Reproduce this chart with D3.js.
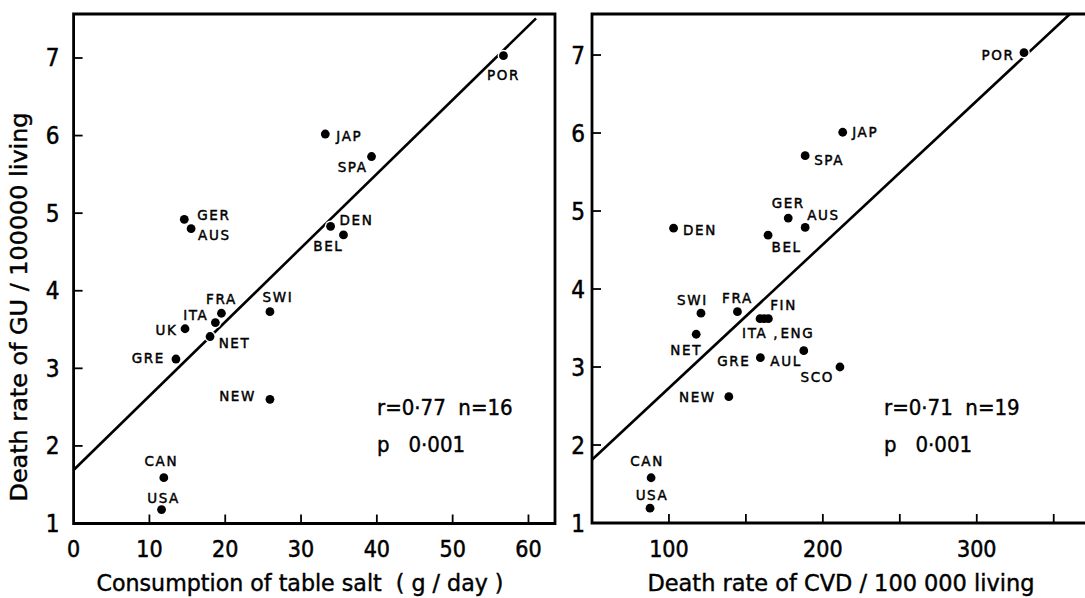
<!DOCTYPE html>
<html>
<head>
<meta charset="utf-8">
<script src="https://cdn.jsdelivr.net/npm/d3@7"></script>
<style>
  body { margin: 0; background: #fff; }
  svg text { fill: #000; white-space: pre; }
</style>
</head>
<body>
<div id="chart"></div>
<script>
//Data, left panel: salt consumption vs GU death rate
var saltCountries = ["POR", "JAP", "SPA", "GER", "AUS", "DEN", "BEL", "FRA", "ITA", "UK", "NET", "SWI", "GRE", "NEW", "CAN", "USA"];
var saltIntake = [56.7, 33.2, 39.3, 14.6, 15.5, 33.9, 35.6, 19.5, 18.7, 14.7, 18.0, 25.9, 13.5, 25.9, 11.9, 11.6];
var saltGU = [7.03, 6.02, 5.73, 4.92, 4.80, 4.83, 4.72, 3.71, 3.59, 3.51, 3.41, 3.73, 3.12, 2.60, 1.59, 1.18];
var saltFit = [[0, 1.69], [61.0, 7.51]];
var saltXTicks = [0, 10, 20, 30, 40, 50, 60];

//Data, right panel: CVD death rate vs GU death rate
var cvdCountries = ["POR", "JAP", "SPA", "GER", "AUS", "DEN", "BEL", "SWI", "FRA", "ITA", "FIN", "ENG", "NET", "GRE", "AUL", "SCO", "NEW", "CAN", "USA"];
var cvdRate = [330.7, 212.9, 188.5, 177.5, 188.5, 103.0, 164.4, 120.8, 144.5, 159.2, 161.9, 164.6, 117.7, 159.4, 187.6, 211.1, 138.9, 88.4, 87.7];
var cvdGU = [7.03, 6.01, 5.71, 4.91, 4.79, 4.78, 4.69, 3.69, 3.71, 3.62, 3.62, 3.62, 3.42, 3.12, 3.21, 3.00, 2.62, 1.58, 1.19];
var cvdFit = [[50, 1.81], [360.7, 7.53]];
var cvdXTicks = [100, 150, 200, 250, 300, 350];
var cvdXLabels = [100, 200, 300];

var yTicks = [1, 2, 3, 4, 5, 6, 7];
var saltStats = ["r=0\u00b777  n=16", "p   0\u00b7001"];
var cvdStats = ["r=0\u00b771  n=19", "p   0\u00b7001"];

//Label placement [dx, dy, anchor]
var saltLabelPos = {
    POR: [0, 24, "middle"], JAP: [11, 7, "start"], SPA: [-4, 15, "end"], GER: [13, 1, "start"],
    AUS: [7, 11, "start"], DEN: [9, -1, "start"], BEL: [0, 16, "end"], FRA: [0, -9, "middle"],
    ITA: [-7, -3, "end"], UK: [-7.5, 6, "end"], NET: [8.6, 11, "start"], SWI: [8, -10, "middle"],
    GRE: [-11, 4, "end"], NEW: [-14, 2, "end"], CAN: [-2.5, -12, "middle"], USA: [2, -7, "middle"]
};
var cvdLabelPos = {
    POR: [-9.5, 7, "end"], JAP: [9.5, 5, "start"], SPA: [9, 9, "start"], GER: [0, -10, "middle"],
    AUS: [2, -7, "start"], DEN: [9.5, 7, "start"], BEL: [3.5, 17, "start"], SWI: [-8.5, -8, "middle"],
    FRA: [0, -9, "middle"], ITA: [-18, 19, "start"], FIN: [6, -9, "start"], ENG: [12, 19, "start"],
    NET: [-10, 21, "middle"], GRE: [-10, 8, "end"], AUL: [-2, 15, "end"], SCO: [-6, 15, "end"],
    NEW: [-13, 5, "end"], CAN: [-4, -12, "middle"], USA: [2, -8, "middle"]
};
var cvdLabelText = { ITA: "ITA ," };

//Setup
var width = 1085, height = 598;
var tickFont = "'DejaVu Sans Condensed', 'Liberation Sans Narrow', sans-serif";
var labelFont = "'DejaVu Sans', sans-serif";

var svg = d3.select("#chart").append("svg")
    .attr("width", width)
    .attr("height", height);

var saltX = d3.scaleLinear().domain([0, 63.5]).range([73.6, 555]);
var saltY = d3.scaleLinear().domain([1, 7.567]).range([523.5, 14]);
var cvdX = d3.scaleLinear().domain([50, 370]).range([592, 1084.5]);
var cvdY = d3.scaleLinear().domain([1, 7.526]).range([523, 14]);

function zip(names, xs, ys) {
    return names.map((n, i) => ({ name: n, x: xs[i], y: ys[i] }));
}

function drawPanel(opts) {
    var g = svg.append("g");
    var x = opts.x, y = opts.y;
    var x0 = x.range()[0], x1 = x.range()[1];
    var y0 = y.range()[0], y1 = y.range()[1];

    // x ticks (inward)
    g.selectAll(".xt").data(opts.xTicks.filter(t => x(t) > x0 + 2))
        .enter().append("line")
        .attr("x1", d => x(d)).attr("x2", d => x(d))
        .attr("y1", y0).attr("y2", y0 - 9)
        .attr("stroke", "#000").attr("stroke-width", 1.8);

    // y ticks (inward)
    g.selectAll(".yt").data(yTicks.filter(t => t > 1))
        .enter().append("line")
        .attr("x1", x0).attr("x2", x0 + 9)
        .attr("y1", d => y(d)).attr("y2", d => y(d))
        .attr("stroke", "#000").attr("stroke-width", 1.8);

    // frame
    var framePath = opts.closed
        ? `M${x0},${y1}H${x1}V${y0}H${x0}Z`
        : `M${x1 + 5},${y1}H${x0}V${y0}H${x1 + 5}`;
    g.append("path").attr("d", framePath)
        .attr("fill", "none").attr("stroke", "#000").attr("stroke-width", 2.8);

    // tick labels
    g.selectAll(".xl").data(opts.xLabels)
        .enter().append("text")
        .attr("x", d => x(d)).attr("y", 557)
        .attr("text-anchor", "middle")
        .style("font-family", tickFont).style("font-size", "23px")
        .attr("stroke", "#000").attr("stroke-width", 0.5)
        .text(d => d);

    g.selectAll(".yl").data(yTicks)
        .enter().append("text")
        .attr("x", x0 + opts.yLabelDx).attr("y", d => y(d) + 8.5)
        .attr("text-anchor", "end")
        .style("font-family", tickFont).style("font-size", "24px")
        .attr("stroke", "#000").attr("stroke-width", 0.5)
        .text(d => d);

    // regression line
    var line = d3.line().x(d => x(d[0])).y(d => y(d[1]));
    g.append("path").attr("d", line(opts.fit))
        .attr("fill", "none").attr("stroke", "#000").attr("stroke-width", 2.6);

    // points: white halo first, then the dots, so touching dots merge
    var pts = opts.points;
    g.selectAll(".halo").data(pts)
        .enter().append("circle")
        .attr("cx", d => x(d.x)).attr("cy", d => y(d.y))
        .attr("r", 5.8).attr("fill", "#fff");

    g.selectAll(".pt").data(pts)
        .enter().append("circle")
        .attr("cx", d => x(d.x)).attr("cy", d => y(d.y))
        .attr("r", 4.4).attr("fill", "#000");

    g.selectAll(".lab").data(pts)
        .enter().append("text")
        .attr("x", d => x(d.x) + opts.labelPos[d.name][0])
        .attr("y", d => y(d.y) + opts.labelPos[d.name][1])
        .attr("text-anchor", d => opts.labelPos[d.name][2])
        .style("font-family", labelFont).style("font-size", "13.5px")
        .style("letter-spacing", "1.6px")
        .attr("stroke", "#000").attr("stroke-width", 0.45)
        .text(d => opts.labelText[d.name] || d.name);

    // stats
    g.selectAll(".st").data(opts.stats)
        .enter().append("text")
        .attr("x", opts.statX).attr("y", (d, i) => 415 + i * 37)
        .style("font-family", tickFont).style("font-size", "22px")
        .attr("stroke", "#000").attr("stroke-width", 0.4)
        .text(d => d);

    // x title
    g.append("text")
        .attr("x", opts.xTitleX).attr("y", 591)
        .attr("text-anchor", "middle")
        .attr("textLength", opts.xTitleLen).attr("lengthAdjust", "spacingAndGlyphs")
        .style("font-family", tickFont).style("font-size", "23px")
        .attr("stroke", "#000").attr("stroke-width", 0.4)
        .text(opts.xTitle);
}

drawPanel({
    x: saltX, y: saltY, closed: true,
    xTicks: saltXTicks, xLabels: saltXTicks, yLabelDx: -14,
    fit: saltFit, points: zip(saltCountries, saltIntake, saltGU),
    labelPos: saltLabelPos, labelText: {}, stats: saltStats, statX: 377,
    xTitle: "Consumption of table salt  ( g / day )", xTitleX: 300, xTitleLen: 407
});

drawPanel({
    x: cvdX, y: cvdY, closed: false,
    xTicks: cvdXTicks, xLabels: cvdXLabels, yLabelDx: -7,
    fit: cvdFit, points: zip(cvdCountries, cvdRate, cvdGU),
    labelPos: cvdLabelPos, labelText: cvdLabelText, stats: cvdStats, statX: 884,
    xTitle: "Death rate of CVD / 100 000 living", xTitleX: 841, xTitleLen: 387
});

// y title (left)
svg.append("text")
    .attr("transform", "translate(27, 307) rotate(-90)")
    .attr("text-anchor", "middle")
    .attr("textLength", 389).attr("lengthAdjust", "spacingAndGlyphs")
    .style("font-family", tickFont).style("font-size", "23px")
    .attr("stroke", "#000").attr("stroke-width", 0.4)
    .text("Death rate of GU / 100000 living");
</script>
</body>
</html>
